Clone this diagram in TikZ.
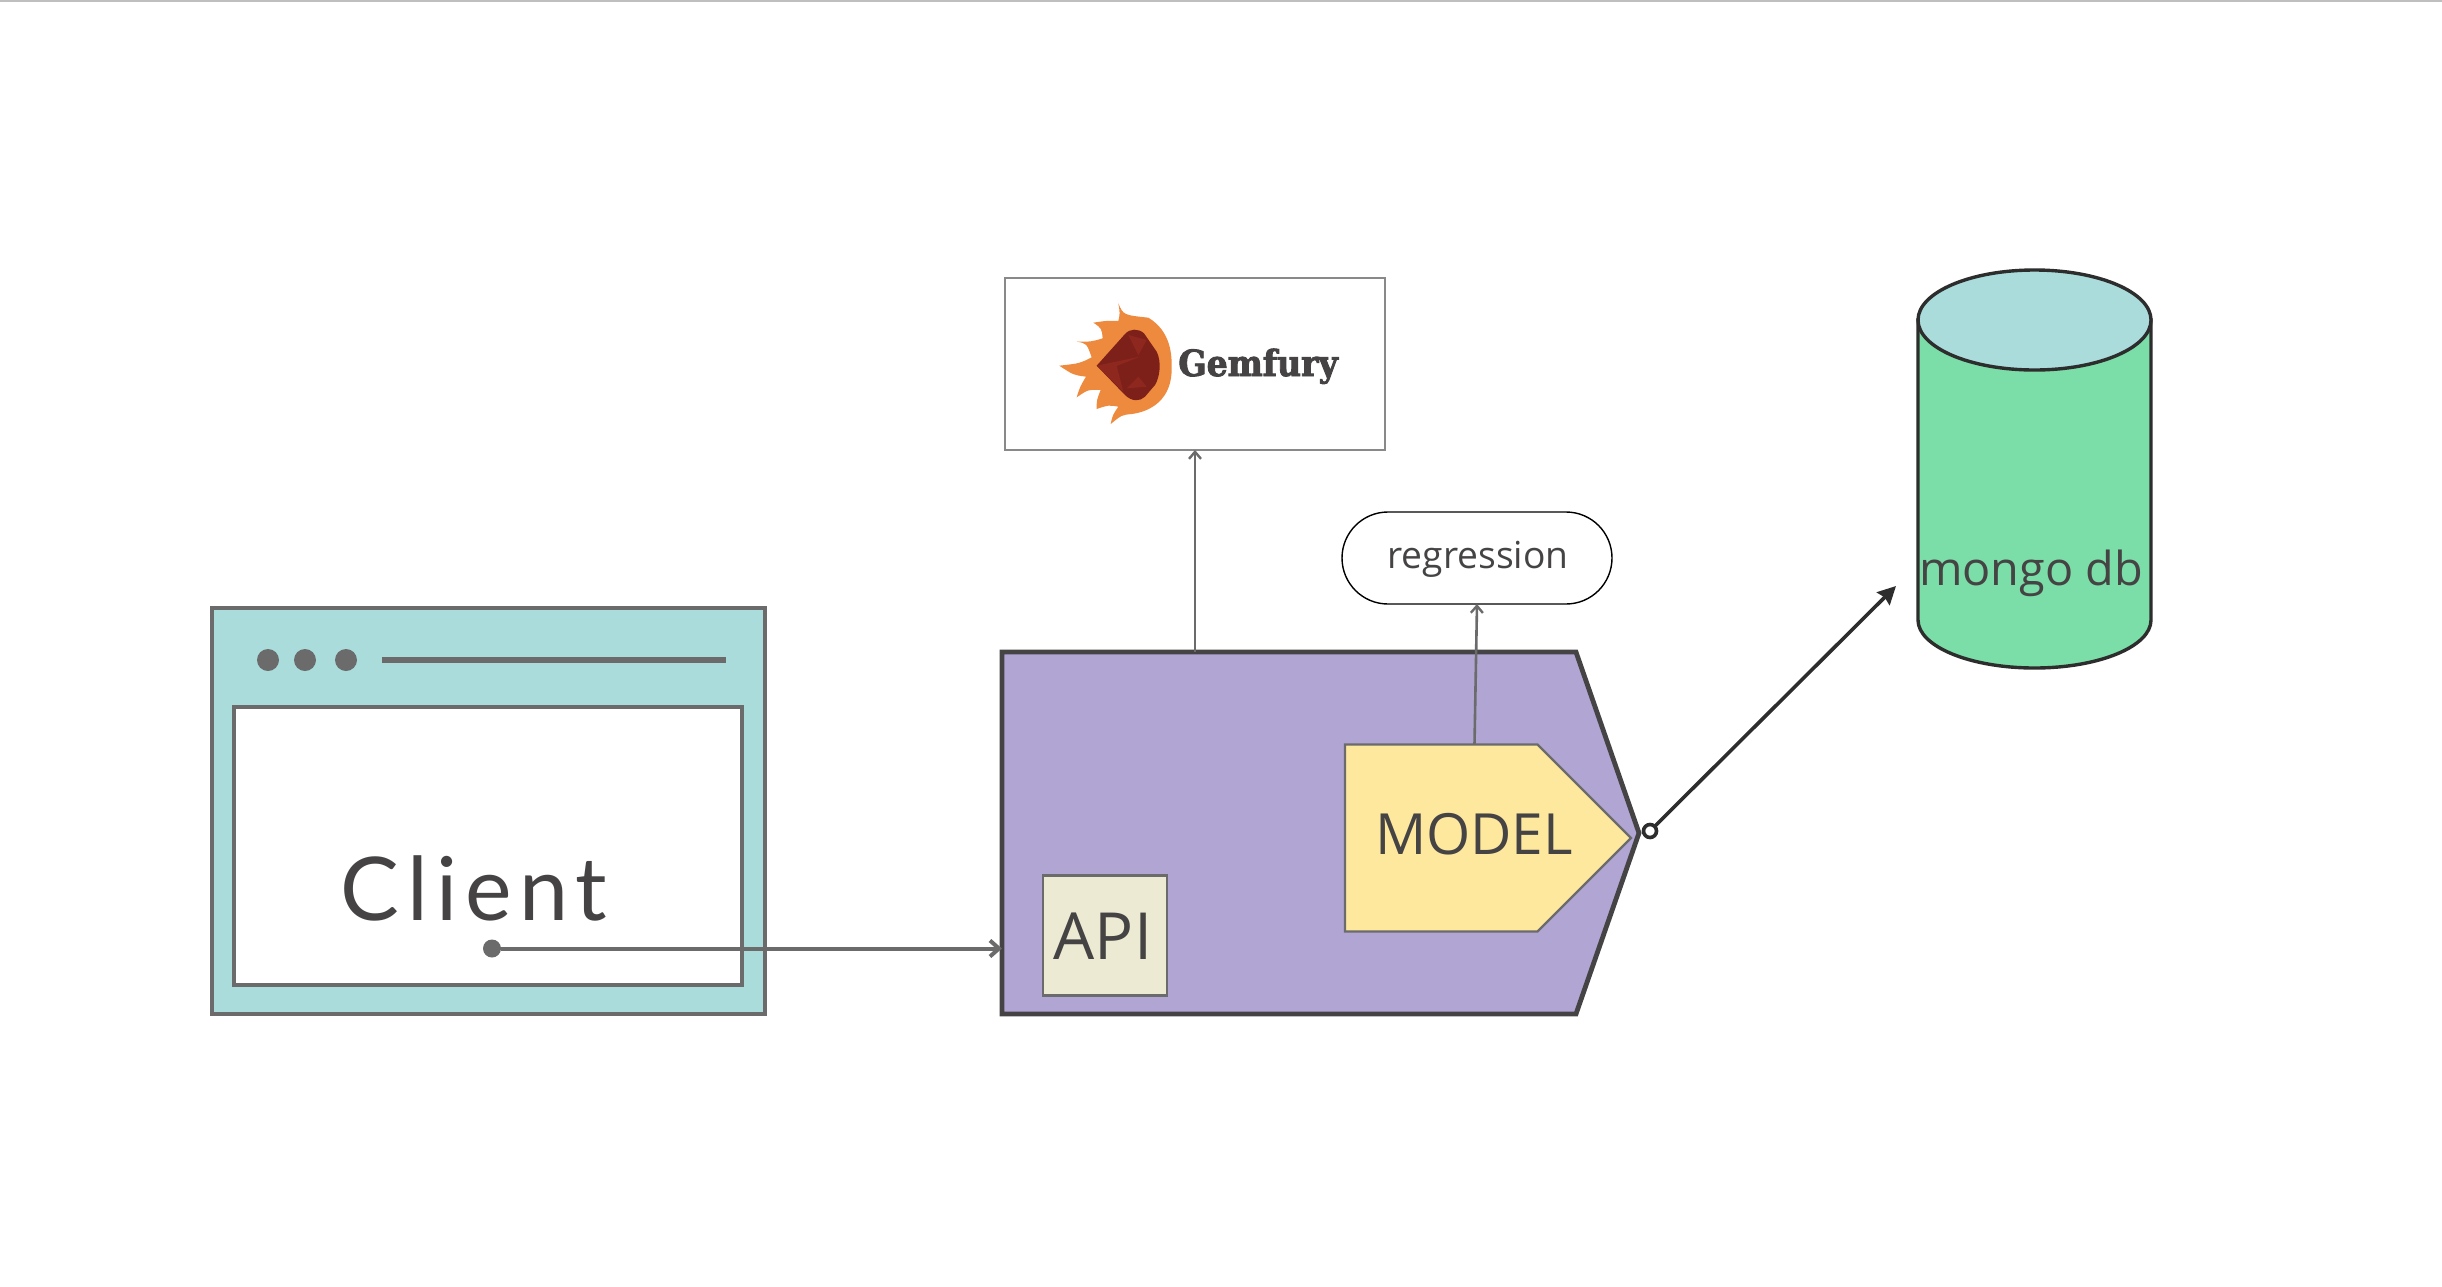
\documentclass[tikz,border=0pt]{standalone}
\usepackage{fontspec}
\usepackage{xcolor}
\usetikzlibrary{shapes.geometric}
\usetikzlibrary{shapes.symbols}
\usetikzlibrary{shapes.misc}
\usetikzlibrary{arrows.meta}
\setmainfont{Open Sans}
\newfontfamily\clientfont[LetterSpace=9]{Lato}
\newfontfamily\gemfont[UprightFont=* Bold, FakeStretch=0.92, FakeBold=2.5]{DejaVu Serif}
\definecolor{teal0}{HTML}{AADCDC}
\definecolor{mint0}{HTML}{7BDDA8}
\definecolor{lilac0}{HTML}{B0A5D3}
\definecolor{butter0}{HTML}{FEE89E}
\definecolor{cream0}{HTML}{ECEAD3}
\definecolor{edge0}{HTML}{6B6B6B}
\definecolor{ink0}{HTML}{454344}
\definecolor{dark0}{HTML}{2D2D2D}
\definecolor{flame0}{HTML}{EE8A3E}
\definecolor{gem0}{HTML}{7D2019}
\definecolor{gem1}{HTML}{8E281F}

\begin{document}
\begin{tikzpicture}[x=0.5pt, y=-0.5pt]
        % ================= styles =================
        \tikzset{
            % window frame and its screen
            winbox/.style={rectangle, draw=edge0, line width=2pt, inner sep=0pt, outer sep=0pt},
            windot/.style={circle, fill=edge0, minimum size=11pt, inner sep=0pt},
            % boxes with a pointed right side
            mainbox/.style={signal, signal to=east, draw=ink0, fill=lilac0, line width=2.4pt, inner sep=0pt, outer sep=0pt,
                signal pointer angle=141.6, minimum width=318.5pt, minimum height=181pt},
            modelbox/.style={signal, signal to=east, draw=edge0, fill=butter0, line width=1.2pt, inner sep=0pt, outer sep=0pt,
                signal pointer angle=90, minimum width=143pt, minimum height=93.5pt},
            apibox/.style={rectangle, draw=edge0, fill=cream0, line width=1.2pt, inner sep=0pt, outer sep=0pt,
                minimum width=62pt, minimum height=60pt},
            gembox/.style={rectangle, draw=edge0!80, fill=white, line width=0.8pt, inner sep=0pt, outer sep=0pt,
                minimum width=190pt, minimum height=86pt},
            pillbox/.style={rounded rectangle, draw=black, fill=white, line width=0.7pt, inner sep=0pt, outer sep=0pt,
                minimum width=135pt, minimum height=46pt},
            dbedge/.style={draw=dark0, line width=1.7pt},
            portdot/.style={circle, draw=dark0, fill=white, line width=1.8pt, minimum size=6.5pt, inner sep=0pt, outer sep=0pt},
            startdot/.style={circle, fill=edge0, minimum size=9pt, inner sep=0pt, outer sep=0pt},
            % texts
            label/.style={text=ink0, inner sep=0pt, anchor=base},
            % connectors
            thinarrow/.style={draw=edge0, line width=1.3pt, -{Straight Barb[length=3.5pt, width=6pt, line width=1.2pt]}},
            flowarrow/.style={draw=edge0, line width=2pt, -{Straight Barb[length=4.5pt, width=8pt, line width=2pt]}},
            outarrow/.style={draw=dark0, line width=1.8pt, -{Stealth[length=9pt, width=9pt, inset=1pt]}}
        }
        \useasboundingbox (0,0) rectangle (2442,1286);

        % page edge at the top
        \fill[black!25] (0,0) rectangle (2442,2);

        % ================= client window =================
        \node[winbox, fill=teal0, minimum width=276.5pt, minimum height=203pt] (window) at (488.5,811) {};
        \node[winbox, fill=white, minimum width=254pt, minimum height=139pt] (screen) at (488,846) {};
        \foreach \dotx/\dotname in {268/dota, 305/dotb, 346/dotc}
            \node[windot] (\dotname) at (\dotx,660) {};
        \draw[edge0, line width=3pt] (382,660) -- (726,660);
        \node[label, font=\fontsize{44}{44}\selectfont\clientfont] (clientname) at (474,920) {Client};
        \node[startdot] (clientdot) at (492,948.5) {};

        % ================= main box =================
        \node[mainbox, anchor=west] (main) at (1002,833) {};
        \node[apibox] (api) at (1105,935.5) {};
        \node[label, font=\fontsize{32.5}{32.5}\selectfont] (apiname) at (1103,959) {API};
        \node[modelbox, anchor=west] (model) at (1345,838) {};
        \node[label, font=\fontsize{28.4}{28.4}\selectfont] (modelname) at (1474,854) {MODEL};
        \node[portdot] (port) at (1650,831) {};

        % ================= gemfury =================
        \node[gembox] (gem) at (1195,364) {};
        \begin{scope}[shift={(980,260)}, x=0.16667pt, y=-0.16667pt]
            % flame
            \fill[flame0]
                (415,130) .. controls (430,165) .. (505,173)
                .. controls (575,215) and (575,290) .. (575,320)
                .. controls (578,420) and (510,455) .. (455,462)
                .. controls (425,465) .. (392,492)
                .. controls (398,465) .. (415,440)
                .. controls (385,435) .. (350,447)
                .. controls (350,420) .. (362,390)
                .. controls (325,388) .. (290,412)
                .. controls (300,380) .. (318,350)
                .. controls (280,345) .. (238,317)
                .. controls (300,310) .. (335,292)
                .. controls (320,250) .. (290,245)
                .. controls (335,245) .. (368,235)
                .. controls (365,205) .. (340,188)
                .. controls (380,182) .. (415,183)
                .. controls (420,160) .. cycle;
            % gem
            \fill[gem0]
                (350,317) -- (435,222) .. controls (450,205) and (475,205) .. (492,220)
                -- (530,275) .. controls (545,305) and (540,350) .. (525,375)
                -- (495,410) .. controls (480,425) and (455,425) .. (435,405) -- cycle;
            \fill[gem1] (445,225) -- (500,240) -- (475,285) -- cycle;
            \fill[gem1] (350,317) -- (480,290) -- (410,318) -- (430,395) -- cycle;
            \fill[gem1] (440,385) -- (500,380) -- (475,350) -- cycle;
        \end{scope}
        \node[text=ink0, inner sep=0pt, anchor=base west, font=\fontsize{18}{18}\selectfont\gemfont] (gemname) at (1178,376) {Gemfury};

        % ================= regression and database =================
        \node[pillbox] (regression) at (1477,558) {};
        \node[label, font=\fontsize{18.6}{18.6}\selectfont] (regressionname) at (1478,568) {regression};
        % cylinder: body first, then the lid
        \draw[dbedge, fill=mint0] (1918,320) -- (1918,620) arc[start angle=180, end angle=0, x radius=116.5, y radius=48] -- (2151,320) -- cycle;
        \draw[dbedge, fill=teal0] (2034.5,320) ellipse [x radius=116.5, y radius=50];
        \node[label, font=\fontsize{23.4}{23.4}\selectfont] (dbname) at (2031,585) {mongo db};
        \coordinate (dbin) at (1896,586);
        \coordinate (modelout) at (1474.5,744);

        % ================= connectors =================
        \draw[flowarrow] (clientdot) -- (clientdot -| main.west);
        \draw[thinarrow] (gem |- main.north) -- (gem.south);
        \draw[thinarrow] (modelout) -- (regression.south);
        \draw[outarrow] (port) -- (dbin);

    \end{tikzpicture}
\end{document}
